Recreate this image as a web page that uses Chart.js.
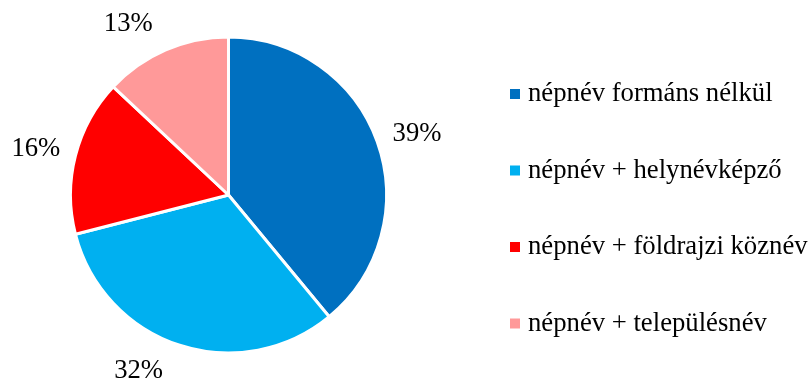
<!DOCTYPE html>
<html>
<head>
<meta charset="utf-8">
<script src="https://cdn.jsdelivr.net/npm/chart.js@4.4.0/dist/chart.umd.min.js"></script>
<style>
    html, body { margin: 0; padding: 0; background: #fff; }
    #wrap { width: 808px; height: 381px; position: relative; }
</style>
</head>
<body>
<div id="wrap"><canvas id="pie"></canvas></div>
<script>
// Chart data
const categories = ['népnév formáns nélkül', 'népnév + helynévképző', 'népnév + földrajzi köznév', 'népnév + településnév'];
const shares = [39, 32, 16, 13];
const sliceColors = ['#0070C0', '#00B0F0', '#FF0000', '#FF9999'];

const FONT = '"Liberation Serif", "Times New Roman", serif';
const FONT_SIZE = 26.7;

// percent labels outside each slice
const outsideLabels = {
    id: 'outsideLabels',
    afterDatasetsDraw(chart, args, opts) {
        const ctx = chart.ctx;
        const meta = chart.getDatasetMeta(0);
        ctx.save();
        ctx.font = FONT_SIZE + 'px ' + FONT;
        ctx.fillStyle = '#000';
        ctx.textAlign = 'center';
        ctx.textBaseline = 'middle';
        meta.data.forEach((arc, i) => {
            const p = arc.getProps(['x', 'y', 'startAngle', 'endAngle', 'outerRadius'], true);
            const mid = (p.startAngle + p.endAngle) / 2 + (opts.shift[i] || 0) * Math.PI / 180;
            const r = p.outerRadius + opts.distance;
            ctx.fillText(shares[i] + '%', p.x + Math.cos(mid) * r, p.y + Math.sin(mid) * r);
        });
        ctx.restore();
    }
};

// legend on the right, one row per category
const sideLegend = {
    id: 'sideLegend',
    afterDraw(chart, args, opts) {
        const ctx = chart.ctx;
        ctx.save();
        ctx.font = FONT_SIZE + 'px ' + FONT;
        ctx.textBaseline = 'middle';
        categories.forEach((name, i) => {
            const y = opts.top + i * opts.rowGap;
            ctx.fillStyle = sliceColors[i];
            ctx.fillRect(opts.left, y - 5, 10, 10);
            ctx.fillStyle = '#000';
            ctx.fillText(name, opts.left + 18, y);
        });
        ctx.restore();
    }
};

new Chart(document.getElementById('pie'), {
    type: 'pie',
    data: {
        labels: categories,
        datasets: [{
            data: shares,
            backgroundColor: sliceColors,
            borderColor: '#ffffff',
            borderWidth: 3
        }]
    },
    options: {
        responsive: true,
        maintainAspectRatio: false,
        animation: false,
        radius: 158,
        layout: { padding: { left: 71, right: 422, top: 38, bottom: 29 } },
        plugins: {
            legend: { display: false },
            tooltip: { enabled: false },
            outsideLabels: { distance: 40, shift: [2, 9, -1, -7] },
            sideLegend: { left: 510, top: 94, rowGap: 76.5 }
        }
    },
    plugins: [outsideLabels, sideLegend]
});
</script>
</body>
</html>
